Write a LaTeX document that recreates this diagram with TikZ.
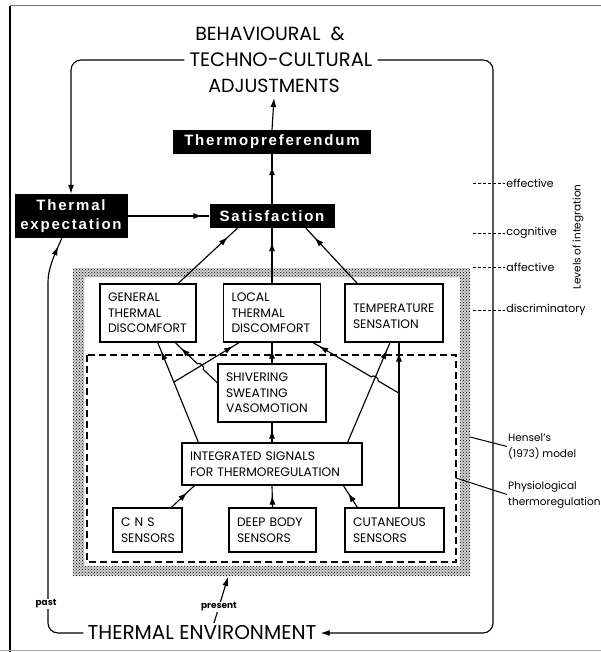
\documentclass[tikz,border=0pt]{standalone}
\usepackage{fontspec}
\setmainfont{Poppins}
\newfontfamily\blk[LetterSpace=12]{Liberation Sans}
\usetikzlibrary{arrows.meta,decorations.markings,calc,patterns}
\begin{document}
\begin{tikzpicture}[x=1pt,y=-1pt,
  ln/.style={line width=1.15pt},
  wbox/.style={draw, line width=1.15pt, fill=white, align=left, inner xsep=8pt, inner ysep=0pt,
     font=\fontsize{12.3}{15.5}\selectfont},
  bbox/.style={fill=black, text=white, align=center, inner sep=0pt,
     font=\blk\bfseries\fontsize{15}{19}\selectfont},
  arr/.style={postaction={decorate},decoration={markings,mark=at position #1 with {\arrow{Latex[length=9pt,width=6pt]}}}},
  tip/.style={-{Latex[length=9pt,width=6pt]}},
  big/.style={font=\fontsize{19}{22}\selectfont, inner sep=5pt},
  lvl/.style={font=\fontsize{11}{12}\selectfont, inner sep=1pt, anchor=west},
  small/.style={font=\fontsize{10.5}{16}\selectfont, align=left, inner sep=1pt, anchor=west},
  lvldash/.style={line width=0.9pt, dash pattern=on 3pt off 2pt}
]
\useasboundingbox (0,0) rectangle (601,652);
% frame
\draw[line width=1.4pt] (10,6) -- (10,652);
\draw[line width=0.6pt, black!55] (10,5) -- (601,5);
\draw[line width=0.8pt, black!35] (0,650) -- (601,650);

% stippled band
\fill[black!18, even odd rule]
  (73,268) rectangle (470,576) (84,277) rectangle (460,566);
\fill[pattern=crosshatch dots, pattern color=black, even odd rule]
  (73,268) rectangle (470,576) (84,277) rectangle (460,566);
% dashed Hensel box
\draw[line width=1.15pt, dash pattern=on 7pt off 4pt] (87,355) rectangle (456,562);

% top texts
\node[big] (adj1) at (270,34) {BEHAVIOURAL \ \&};
\node[big, font=\fontsize{19.5}{22}\selectfont] (adj2) at (281,60) {TECHNO-CULTURAL};
\node[big] (adj3) at (274,86) {ADJUSTMENTS};
\node[font=\fontsize{20}{24}\selectfont, inner sep=4pt] (te) at (202,633) {THERMAL ENVIRONMENT};

% black boxes
\node[bbox, minimum width=198pt, minimum height=24pt] (tpref) at (272,142) {Thermopreferendum};
\node[bbox, minimum width=125pt, minimum height=24pt] (sat) at (272,216) {Satisfaction};
\node[bbox, minimum width=113pt, minimum height=44pt] (texp) at (71,216) {Thermal\\expectation};

% white boxes
\node[wbox, text width=80pt, minimum height=58pt] (gen) at (148,313) {GENERAL\\THERMAL\\DISCOMFORT};
\node[wbox, text width=81pt, minimum height=58pt] (loc) at (272,313) {LOCAL\\THERMAL\\DISCOMFORT};
\node[wbox, text width=82pt, minimum height=58pt] (tmp) at (394,313) {\mbox{}\\TEMPERATURE\\SENSATION};
\node[wbox, text width=92pt, minimum height=58pt] (shiv) at (272,393) {SHIVERING\\SWEATING\\VASOMOTION};
\node[wbox, text width=164pt, minimum height=42pt] (integ) at (272,464) {INTEGRATED SIGNALS\\FOR THERMOREGULATION};
\node[wbox, text width=53pt, minimum height=44pt] (cns) at (147.5,530) {C N S\\SENSORS};
\node[wbox, text width=71pt, minimum height=44pt] (deep) at (272.5,530) {DEEP BODY\\SENSORS};
\node[wbox, text width=83pt, minimum height=44pt] (cut) at (394.5,530) {CUTANEOUS\\SENSORS};

% upper connectors
\draw[ln,tip] (tpref.north) -- (adj3.south);
\draw[ln,arr=-12pt] (sat.north) -- (tpref.south);
\draw[ln,arr=-7pt] (texp.east) -- (sat.west);
\draw[ln,arr=-13pt] ($(gen.north west)!0.81!(gen.north east)$) -- ($(sat.south west)!0.224!(sat.south east)$);
\draw[ln,arr=-14pt] (loc.north) -- (sat.south);
\draw[ln,arr=-13pt] ($(tmp.north west)!0.13!(tmp.north east)$) -- ($(sat.south west)!0.77!(sat.south east)$);

% middle connectors
\coordinate (ig0) at ($(integ.north west)!0.094!(integ.north east)$);
\coordinate (g1) at ($(gen.south west)!0.6!(gen.south east)$);
\draw[ln,arr=-9pt] (ig0) -- (g1);
\coordinate (br1) at ($(ig0)!0.604!(g1)$);
\coordinate (l1) at ($(loc.south west)!0.165!(loc.south east)$);
\draw[ln,arr=-7pt] (br1) -- (l1);
\coordinate (s0) at ($(shiv.north west)!0.33!(shiv.south west)$);
\coordinate (g2) at ($(gen.south west)!0.78!(gen.south east)$);
\draw[ln,arr=-8pt] (s0) -- ($(s0)!0.336!(g2)$) to[bend right=90] ($(s0)!0.472!(g2)$) -- (g2);
\draw[ln,arr=-7pt] (integ.north) -- (shiv.south);
\draw[ln,arr=-7pt] (shiv.north) -- (loc.south);

\coordinate (ig1) at ($(integ.north west)!0.917!(integ.north east)$);
\coordinate (t1) at ($(tmp.south west)!0.46!(tmp.south east)$);
\draw[ln,arr=-8pt] (ig1) -- (t1);
\coordinate (c1) at ($(cut.north west)!0.545!(cut.north east)$);
\draw[ln,arr=-10pt] (c1) -- (c1 |- tmp.south);
\coordinate (br2) at ($(c1)!0.693!(c1 |- tmp.south)$);
\coordinate (l2) at ($(loc.south west)!0.918!(loc.south east)$);
\draw[ln,arr=-7pt] (br2) -- ($(br2)!0.243!(l2)$) to[bend right=90] ($(br2)!0.323!(l2)$) -- (l2);

% sensors to integrated
\coordinate (cn) at ($(cns.north west)!0.84!(cns.north east)$);
\coordinate (i1) at ($(integ.south west)!0.072!(integ.south east)$);
\draw[ln,arr=-10pt] (cn) -- (i1);
\draw[ln,arr=-10pt] (deep.north) -- (integ.south);
\coordinate (cu) at ($(cut.north west)!0.13!(cut.north east)$);
\coordinate (i2) at ($(integ.south west)!0.894!(integ.south east)$);
\draw[ln,arr=-9pt] (cu) -- (i2);

% outer loop
\draw[ln,rounded corners=10pt,tip] (adj2.west) -| (texp.north);
\coordinate (rc) at (493,633);
\draw[ln,rounded corners=10pt,tip] (adj2.east) -| (rc) -- (te.east);
\coordinate (pp) at (48,292);
\draw[ln,rounded corners=10pt,arr=-9pt] (te.west) -| (pp) to[out=90,in=-115] ($(texp.south west)!0.42!(texp.south east)$);
\node[font=\fontsize{9}{10}\selectfont\bfseries, fill=white, inner sep=1pt] (past) at (46,604) {past};

\coordinate (pr0) at (214,623);
\coordinate (pr1) at (228,577);
\draw[ln,tip] (pr0) -- (pr1);
\node[font=\fontsize{9}{10}\selectfont\bfseries, fill=white, inner sep=1pt] (present) at (219,607) {present};

% levels of integration
\draw[lvldash] (473,183) -- (505,183) node[lvl] (lv1) {effective};
\draw[lvldash] (473,233) -- (505,233) node[lvl] (lv2) {cognitive};
\draw[lvldash] (473,267) -- (505,267) node[lvl] (lv3) {affective};
\draw[lvldash] (473,310) -- (505,310) node[lvl] (lv4) {discriminatory};
\node[font=\fontsize{10.5}{12}\selectfont, rotate=90, inner sep=1pt] (levels) at (578,237) {Levels of integration};

% side labels
\coordinate (hs0) at (470,437);
\node[small] (hens) at (507,446.5) {Hensel's\\(1973) model};
\draw[line width=1pt] (hs0) -- (hens.west);
\coordinate (ph0) at (456,478);
\node[small] (phys) at (507,494.5) {Physiological\\thermoregulation};
\draw[line width=1pt] (ph0) -- (phys.west);
\end{tikzpicture}
\end{document}
